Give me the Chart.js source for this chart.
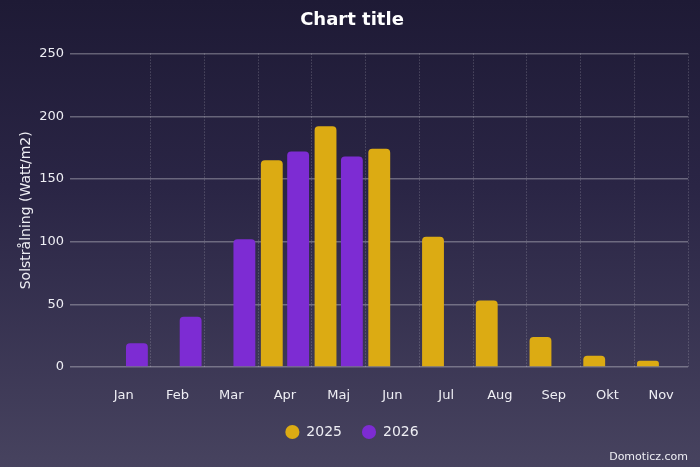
<!DOCTYPE html>
<html>
<head>
<meta charset="utf-8">
<script src="https://cdn.jsdelivr.net/npm/chart.js@4/dist/chart.umd.min.js"></script>
<style>
  html, body { margin: 0; padding: 0; }
  body { width: 700px; height: 467px; background: linear-gradient(to bottom, #1e1a35 0%, #2a2545 40%, #47435f 100%); }
  #wrap { position: relative; width: 700px; height: 467px; }
  #credit { position: absolute; right: 12px; bottom: 4px; font: 11px 'DejaVu Sans', sans-serif; color: #eeeef4; }
</style>
</head>
<body>
<div id="wrap"><canvas id="c"></canvas><div id="credit">Domoticz.com</div></div>
<script>
// Solstrålning per månad, 2025 vs 2026
const months = ["Jan", "Feb", "Mar", "Apr", "Maj", "Jun", "Jul", "Aug", "Sep", "Okt", "Nov"];
const sol2025 = [null, null, null, 165, 192, 174, 104, 53, 24, 9, 5];
const sol2026 = [19, 40, 102, 172, 168, null, null, null, null, null, null];
const yTicks = [0, 50, 100, 150, 200, 250];

const COL = {
  gold: "#dcab13", purple: "#7d2cd3",
  grid: "rgba(255,255,255,0.30)", dots: "rgba(255,255,255,0.28)", text: "#eeeef4",
};

Chart.defaults.font.family = "'DejaVu Sans', sans-serif";
Chart.defaults.color = COL.text;

const pts = (arr) => arr.map((v, i) => ({ x: i, y: v }));

new Chart(document.getElementById("c"), {
  type: "bar",
  data: {
    datasets: [
      { label: "2025", data: pts(sol2025), backgroundColor: COL.gold, borderRadius: 4, borderSkipped: "bottom" },
      { label: "2026", data: pts(sol2026), backgroundColor: COL.purple, borderRadius: 4, borderSkipped: "bottom" },
    ],
  },
  options: {
    responsive: true, maintainAspectRatio: false, animation: false,
    categoryPercentage: 0.98, barPercentage: 0.83,
    layout: { padding: { top: 8, right: 12, bottom: 18, left: 16 } },
    plugins: {
      title: { display: true, text: "Chart title", color: "#ffffff", font: { size: 18, weight: "bold" }, padding: { top: 2, bottom: 22 } },
      legend: {
        position: "bottom",
        labels: { usePointStyle: true, pointStyle: "circle", boxWidth: 14, boxHeight: 10, padding: 20, color: COL.text, font: { size: 14 } },
      },
      tooltip: { enabled: false },
    },
    scales: {
      x: {
        type: "linear", min: -1, max: 10.5, offset: false,
        afterBuildTicks: (s) => { s.ticks = months.map((_, i) => ({ value: i })); },
        afterFit: (s) => { s.height = 38; },
        ticks: { callback: (v) => months[v], color: COL.text, font: { size: 13 }, padding: 21, autoSkip: false, maxRotation: 0 },
        grid: {
          offset: true, drawTicks: false, lineWidth: 1,
          color: (ctx) => (ctx.index === 0 ? "transparent" : COL.dots),
        },
        border: { display: false, dash: [1, 2] },
      },
      y: {
        min: 0, max: 250,
        afterBuildTicks: (s) => { s.ticks = yTicks.map((v) => ({ value: v })); },
        afterFit: (s) => { s.width = 54; },
        ticks: { color: COL.text, font: { size: 13 }, padding: 6 },
        grid: { color: COL.grid, lineWidth: 1.5, drawTicks: false },
        border: { display: false },
        title: { display: true, text: "Solstrålning (Watt/m2)", color: COL.text, font: { size: 14 }, padding: { top: 2, bottom: 0 } },
      },
    },
  },
});
</script>
</body>
</html>
